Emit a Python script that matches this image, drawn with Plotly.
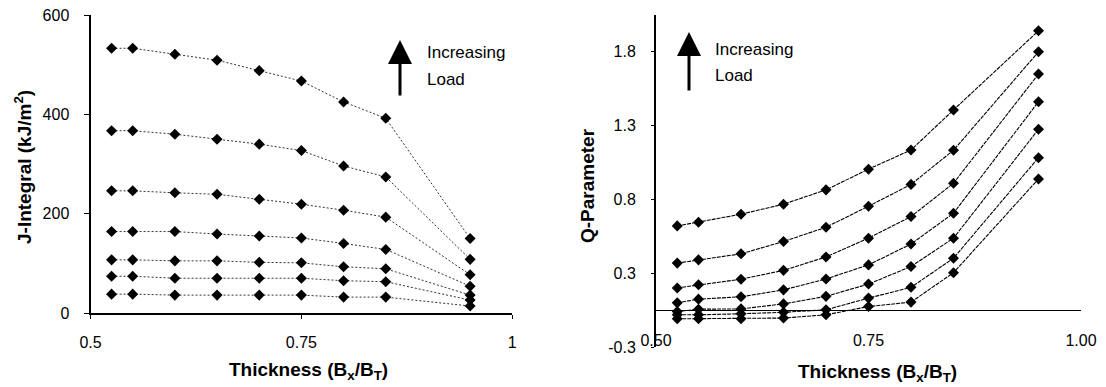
import plotly.graph_objects as go

# ---------------- data ----------------
thickness = [0.525, 0.55, 0.6, 0.65, 0.7, 0.75, 0.8, 0.85, 0.95]

J1 = [533, 533, 521, 509, 488, 467, 425, 392, 150]
J2 = [367, 367, 360, 350, 340, 327, 296, 274, 108]
J3 = [246, 246, 242, 239, 229, 219, 207, 193, 77]
J4 = [164, 164, 164, 159, 155, 151, 140, 128, 54]
J5 = [107, 107, 105, 105, 102, 101, 93, 89, 36]
J6 = [74, 74, 70, 70, 70, 70, 65, 63, 26]
J7 = [38, 38, 36, 36, 36, 36, 32, 32, 14]

Q1 = [0.570, 0.595, 0.649, 0.717, 0.814, 0.954, 1.084, 1.355, 1.891]
Q2 = [0.318, 0.340, 0.381, 0.464, 0.561, 0.703, 0.851, 1.082, 1.749]
Q3 = [0.150, 0.171, 0.209, 0.269, 0.360, 0.487, 0.633, 0.859, 1.598]
Q4 = [0.049, 0.074, 0.090, 0.137, 0.211, 0.306, 0.447, 0.656, 1.411]
Q5 = [-0.010, 0.006, 0.008, 0.042, 0.093, 0.176, 0.295, 0.487, 1.224]
Q6 = [-0.032, -0.032, -0.025, -0.015, 0.002, 0.081, 0.154, 0.351, 1.032]
Q7 = [-0.059, -0.059, -0.059, -0.054, -0.032, 0.024, 0.054, 0.253, 0.888]

j_series = [J1, J2, J3, J4, J5, J6, J7]
q_series = [Q1, Q2, Q3, Q4, Q5, Q6, Q7]

left_xticks = [0.5, 0.75, 1.0]
left_xtext = ["0.5", "0.75", "1"]
left_yticks = [0, 200, 400, 600]
right_xticks = [0.5, 0.75, 1.0]
right_xtext = ["0.50", "0.75", "1.00"]
right_yticks = [-0.25, 0.25, 0.75, 1.25, 1.75]
right_ytext = ["-0.3", "0.3", "0.8", "1.3", "1.8"]

FONT = "Arial, Liberation Sans, sans-serif"
W, H = 1106, 387

fig = go.Figure()
for s in j_series:
    fig.add_trace(go.Scatter(
        x=thickness, y=s, mode="lines+markers", xaxis="x", yaxis="y",
        line=dict(color="#333", width=1, dash="2px,2px"),
        marker=dict(symbol="diamond", size=8.5, color="black"),
        showlegend=False, cliponaxis=False))
for s in q_series:
    fig.add_trace(go.Scatter(
        x=thickness, y=s, mode="lines+markers", xaxis="x2", yaxis="y2",
        line=dict(color="black", width=1.1, dash="4px,1px"),
        marker=dict(symbol="diamond", size=8.5, color="black"),
        showlegend=False, cliponaxis=False))

def px_x(p):
    return p / W

def px_y(p):
    return 1 - p / H

fig.update_layout(
    width=W, height=H,
    margin=dict(l=0, r=0, t=0, b=0, pad=0, autoexpand=False),
    paper_bgcolor="white", plot_bgcolor="white",
    font=dict(family=FONT, size=16, color="black"),
    xaxis=dict(domain=[px_x(90.5), px_x(512.3)], range=[0.5, 1.0],
               tickvals=left_xticks, ticktext=left_xtext,
               showline=True, linecolor="black", linewidth=2,
               ticks="outside", ticklen=4, tickcolor="black",
               ticklabelstandoff=10, showgrid=False, zeroline=False,
               anchor="y", automargin=False),
    yaxis=dict(domain=[px_y(313), px_y(15)], range=[0, 600],
               tickvals=left_yticks,
               showline=True, linecolor="black", linewidth=2,
               ticks="outside", ticklen=5, tickcolor="black",
               ticklabelstandoff=11, showgrid=False, zeroline=False,
               anchor="x", automargin=False),
    xaxis2=dict(domain=[px_x(656), px_x(1081)], range=[0.5, 1.0],
                tickvals=right_xticks, ticktext=right_xtext,
                showline=False, ticks="", anchor="free",
                position=px_y(329), ticklabelstandoff=0,
                showgrid=False, zeroline=False, automargin=False),
    yaxis2=dict(domain=[px_y(347.3), px_y(14.7)], range=[-0.252, 2.0],
                tickvals=right_yticks, ticktext=right_ytext,
                showline=True, linecolor="black", linewidth=2,
                ticks="outside", ticklen=3, tickcolor="black",
                ticklabelstandoff=12, showgrid=False,
                zeroline=True, zerolinecolor="black", zerolinewidth=1,
                anchor="x2", automargin=False),
)

ann = []
# axis titles
ann.append(dict(x=px_x(23), y=px_y(167), text="<b>J-Integral (kJ/m<sup>2</sup>)</b>",
                textangle=-90, showarrow=False, font=dict(size=19)))
ann.append(dict(x=px_x(587), y=px_y(186), text="<b>Q-Parameter</b>",
                textangle=-90, showarrow=False, font=dict(size=19)))
ann.append(dict(x=px_x(308), y=px_y(371), text="<b>Thickness (B<sub>x</sub>/B<sub>T</sub>)</b>",
                showarrow=False, font=dict(size=19)))
ann.append(dict(x=px_x(877), y=px_y(373), text="<b>Thickness (B<sub>x</sub>/B<sub>T</sub>)</b>",
                showarrow=False, font=dict(size=19)))
# "Increasing Load" notes
for (tx, ty1, ty2) in [(425, 53, 80), (713, 50, 75)]:
    ann.append(dict(x=px_x(tx), y=px_y(ty1), text="Increasing", xanchor="left",
                    showarrow=False, font=dict(size=17)))
    ann.append(dict(x=px_x(tx), y=px_y(ty2), text="Load", xanchor="left",
                    showarrow=False, font=dict(size=17)))
# arrows
for (axp, top, bot) in [(400, 40, 97), (689, 32, 92)]:
    ann.append(dict(x=px_x(axp), y=px_y(top), ax=0, ay=bot - top, text="",
                    showarrow=True, arrowhead=2, arrowsize=1.6, arrowwidth=3,
                    arrowcolor="black"))
for a in ann:
    a.setdefault("xref", "paper")
    a.setdefault("yref", "paper")
    a.setdefault("xanchor", "center")
    a.setdefault("yanchor", "middle")
fig.update_layout(annotations=ann)

fig.write_html("out.html")
